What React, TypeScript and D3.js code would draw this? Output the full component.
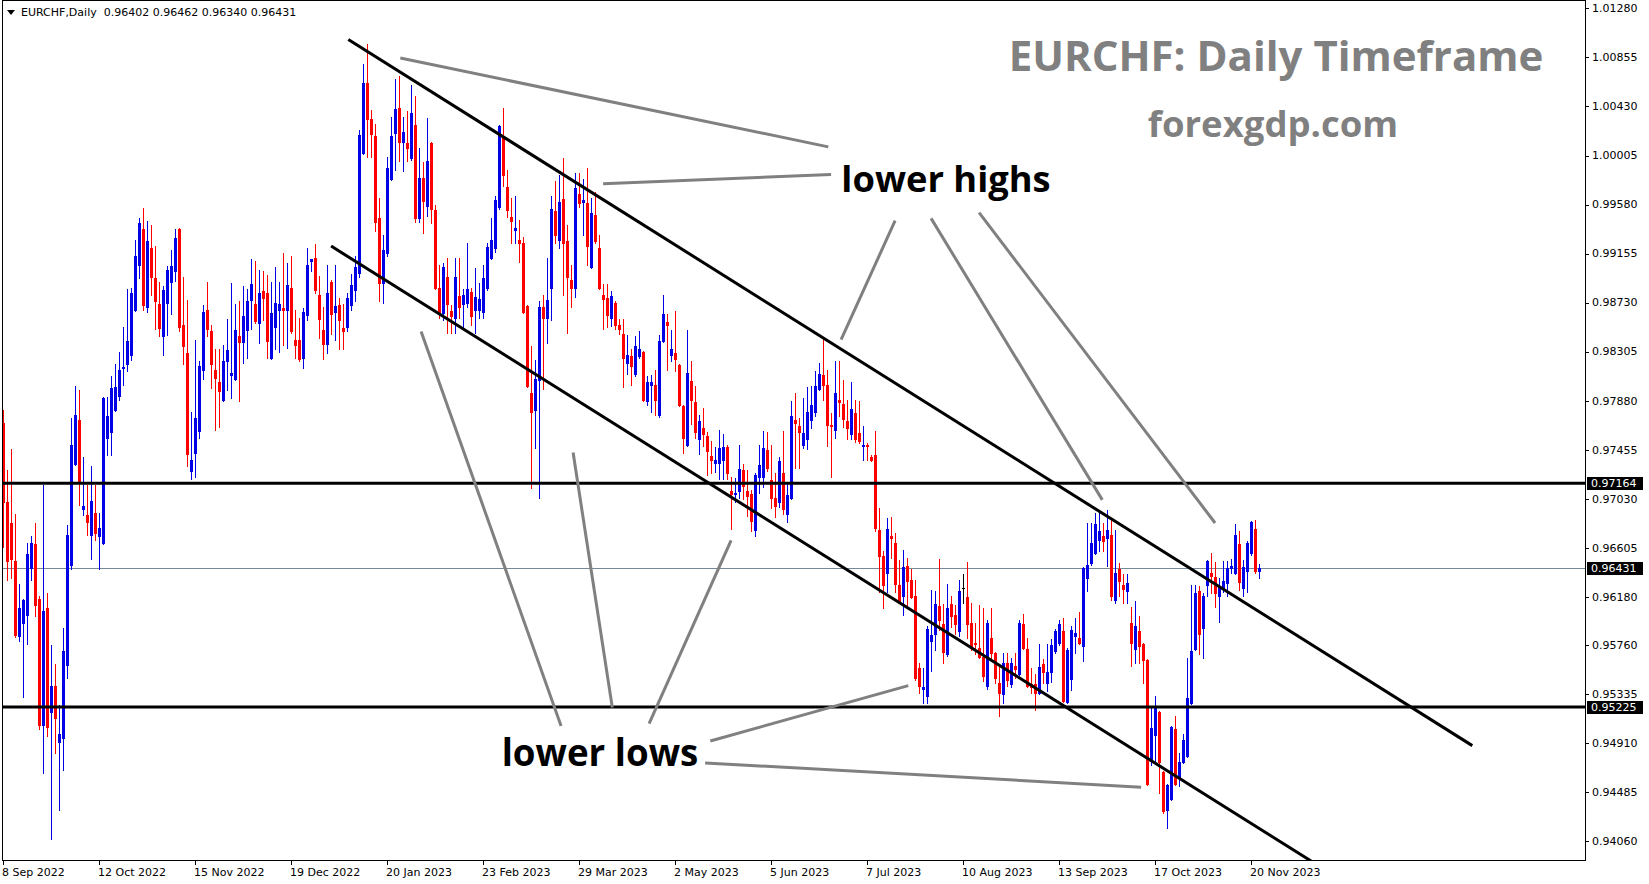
import React from "react";
import * as d3 from "d3";

// EURCHF daily candles, 8 Sep 2022 .. 22 Nov 2023
const opens = [
  0.9769, 0.97, 0.9682, 0.9649, 0.9584, 0.9595, 0.9602, 0.9643, 0.9664, 0.9616,
  0.9507, 0.9608, 0.9518, 0.9541, 0.9492, 0.9496, 0.9559, 0.9646, 0.9733, 0.9771,
  0.9694, 0.9689, 0.9672, 0.9691, 0.9671, 0.9665, 0.9756, 0.9761, 0.978, 0.9792,
  0.9816, 0.982, 0.9828, 0.9867, 0.9906, 0.9937, 0.9869, 0.992, 0.9894, 0.9872,
  0.9844, 0.9873, 0.9891, 0.99, 0.9937, 0.9854, 0.9829, 0.9727, 0.9743, 0.9762,
  0.9815, 0.9867, 0.9848, 0.9815, 0.9804, 0.9789, 0.9822, 0.981, 0.9807, 0.9844,
  0.9839, 0.9849, 0.9875, 0.9872, 0.9855, 0.9883, 0.9881, 0.9825, 0.9852, 0.9867,
  0.9868, 0.9867, 0.9886, 0.9841, 0.9841, 0.9825, 0.9862, 0.9909, 0.9912, 0.988,
  0.9849, 0.9837, 0.9891, 0.9865, 0.9871, 0.9851, 0.9852, 0.9871, 0.9884, 0.9899,
  1.0003, 1.0063, 1.0032, 1.0017, 0.9946, 0.989, 0.9916, 0.998, 1.002, 1.0042,
  1.0012, 1.0011, 0.9998, 1.0027, 0.9946, 0.9981, 0.9957, 1.0011, 0.9953, 0.9886,
  0.9864, 0.9895, 0.9866, 0.986, 0.9879, 0.9872, 0.9873, 0.9882, 0.9867, 0.9867,
  0.9865, 0.9886, 0.9912, 0.992, 0.9956, 1.0016, 0.9973, 0.9947, 0.9936, 0.9927,
  0.9925, 0.987, 0.9795, 0.978, 0.9806, 0.9869, 0.986, 0.9886, 0.9952, 0.9927,
  0.9963, 0.9926, 0.9893, 0.9886, 0.9967, 0.996, 0.9959, 0.9904, 0.9949, 0.992,
  0.988, 0.9877, 0.986, 0.9873, 0.9854, 0.9846, 0.9821, 0.9827, 0.9811, 0.9827,
  0.983, 0.9788, 0.9802, 0.9802, 0.9776, 0.984, 0.9856, 0.9828, 0.9829, 0.9819,
  0.9783, 0.975, 0.9805, 0.9787, 0.9755, 0.9764, 0.9757, 0.974, 0.9734, 0.9734,
  0.9737, 0.9748, 0.971, 0.9707, 0.971, 0.9728, 0.971, 0.9707, 0.9676, 0.9722,
  0.9722, 0.9745, 0.9719, 0.9704, 0.97, 0.9725, 0.969, 0.9704, 0.9771, 0.9766,
  0.975, 0.9755, 0.9771, 0.9778, 0.9798, 0.981, 0.9802, 0.9767, 0.9763, 0.9789,
  0.9785, 0.977, 0.9759, 0.9777, 0.976, 0.9749, 0.975, 0.9739, 0.9741, 0.9676,
  0.9653, 0.9639, 0.9671, 0.9665, 0.9628, 0.9619, 0.9645, 0.9633, 0.9619, 0.9556,
  0.9538, 0.9532, 0.958, 0.9586, 0.961, 0.9594, 0.9568, 0.9612, 0.9602, 0.9588,
  0.9626, 0.9618, 0.9595, 0.9578, 0.9574, 0.9566, 0.9541, 0.9582, 0.9569, 0.9543,
  0.9534, 0.9561, 0.9542, 0.9558, 0.9551, 0.9594, 0.9573, 0.9542, 0.9542, 0.9535,
  0.956, 0.9543, 0.9553, 0.9571, 0.9578, 0.9588, 0.9527, 0.9547, 0.9584, 0.9582,
  0.9575, 0.9634, 0.9647, 0.9656, 0.9667, 0.9671, 0.9669, 0.9672, 0.9615, 0.9642,
  0.9628, 0.9623, 0.9595, 0.9573, 0.9588, 0.9577, 0.9563, 0.9476, 0.9498, 0.9518,
  0.9466, 0.9433, 0.9443, 0.9503, 0.9462, 0.9475, 0.948, 0.9526, 0.9573, 0.9623,
  0.9591, 0.9628, 0.9639, 0.9635, 0.9619, 0.9626, 0.963, 0.9643, 0.9639, 0.9664,
  0.9626, 0.964, 0.9656, 0.9677, 0.96402,
];
const highs = [
  0.978, 0.9728, 0.9746, 0.969, 0.9629, 0.9616, 0.9665, 0.9671, 0.9682, 0.9619,
  0.9715, 0.9621, 0.9576, 0.956, 0.9524, 0.9591, 0.968, 0.9773, 0.9801, 0.9797,
  0.9739, 0.9715, 0.9731, 0.9715, 0.9691, 0.9791, 0.9791, 0.9809, 0.982, 0.983,
  0.9852, 0.9885, 0.9886, 0.9927, 0.9946, 0.9955, 0.9944, 0.994, 0.9922, 0.9891,
  0.9887, 0.9905, 0.9919, 0.9937, 0.9938, 0.9895, 0.9875, 0.9778, 0.9841, 0.9822,
  0.9871, 0.9891, 0.9854, 0.9833, 0.9833, 0.9836, 0.9859, 0.989, 0.9872, 0.9874,
  0.9887, 0.9885, 0.9911, 0.9909, 0.9901, 0.99, 0.9897, 0.9891, 0.9904, 0.9891,
  0.9916, 0.9907, 0.9913, 0.9867, 0.986, 0.9868, 0.992, 0.9911, 0.9924, 0.9896,
  0.9869, 0.9906, 0.9893, 0.9906, 0.9877, 0.9872, 0.9881, 0.9898, 0.9913, 1.0023,
  1.008, 1.0097, 1.004, 1.0028, 0.9964, 0.9932, 0.9999, 1.0034, 1.0067, 1.0069,
  1.0034, 1.0039, 1.0062, 1.0052, 1.0007, 0.9995, 1.0033, 1.0012, 0.9958, 0.9906,
  0.9907, 0.9912, 0.9871, 0.9912, 0.9912, 0.9885, 0.9925, 0.9886, 0.9903, 0.989,
  0.9906, 0.9925, 0.9946, 0.9965, 1.0027, 1.0042, 0.9988, 0.9964, 0.9965, 0.9945,
  0.993, 0.9871, 0.9835, 0.9823, 0.9874, 0.988, 0.9912, 0.9965, 0.9978, 0.9984,
  0.9998, 0.994, 0.9906, 0.9985, 0.9985, 0.998, 0.999, 0.9964, 0.9969, 0.9932,
  0.9889, 0.9889, 0.9883, 0.9874, 0.9859, 0.9859, 0.9845, 0.9833, 0.9844, 0.9848,
  0.9831, 0.9809, 0.981, 0.9815, 0.9845, 0.988, 0.9863, 0.9849, 0.9866, 0.982,
  0.9784, 0.9849, 0.9822, 0.9801, 0.9776, 0.9782, 0.9761, 0.9753, 0.9748, 0.9763,
  0.9759, 0.975, 0.9722, 0.9721, 0.975, 0.9733, 0.9728, 0.9711, 0.9725, 0.975,
  0.9762, 0.9761, 0.975, 0.9725, 0.9739, 0.9762, 0.9717, 0.9788, 0.9795, 0.9773,
  0.979, 0.98, 0.9801, 0.9814, 0.9821, 0.9842, 0.9815, 0.9777, 0.9822, 0.9822,
  0.9806, 0.9789, 0.9804, 0.9789, 0.9788, 0.9766, 0.9751, 0.9741, 0.9762, 0.9695,
  0.9658, 0.9686, 0.9687, 0.9673, 0.965, 0.9659, 0.9652, 0.9642, 0.9633, 0.9561,
  0.9556, 0.9593, 0.9624, 0.9623, 0.9651, 0.9612, 0.9629, 0.9619, 0.9611, 0.9633,
  0.9638, 0.9648, 0.9613, 0.9595, 0.9611, 0.9608, 0.9598, 0.9608, 0.957, 0.9559,
  0.9569, 0.9569, 0.9565, 0.9569, 0.9598, 0.9603, 0.9582, 0.9556, 0.9551, 0.9577,
  0.9564, 0.9577, 0.9581, 0.959, 0.9598, 0.96, 0.9574, 0.9593, 0.96, 0.9605,
  0.9644, 0.9682, 0.9682, 0.9691, 0.9691, 0.9682, 0.9693, 0.9686, 0.9676, 0.9647,
  0.9638, 0.9638, 0.9609, 0.9614, 0.9601, 0.9578, 0.9564, 0.9523, 0.9532, 0.9519,
  0.9467, 0.9456, 0.9506, 0.9515, 0.9483, 0.9499, 0.9565, 0.9628, 0.9628, 0.9627,
  0.9621, 0.965, 0.9656, 0.9648, 0.9634, 0.9649, 0.9649, 0.9651, 0.9681, 0.9675,
  0.965, 0.9666, 0.9684, 0.9685, 0.96462,
];
const lows = [
  0.9661, 0.9633, 0.9634, 0.9583, 0.958, 0.9531, 0.9577, 0.9633, 0.9601, 0.9503,
  0.9465, 0.9497, 0.9408, 0.9483, 0.9433, 0.9468, 0.9548, 0.9642, 0.9732, 0.9698,
  0.9689, 0.9672, 0.9651, 0.9667, 0.9642, 0.9664, 0.9741, 0.9741, 0.9779, 0.9789,
  0.9802, 0.9814, 0.9823, 0.9866, 0.9894, 0.9867, 0.9865, 0.988, 0.985, 0.9844,
  0.9828, 0.9845, 0.9863, 0.9892, 0.9848, 0.982, 0.9731, 0.972, 0.9722, 0.9756,
  0.9807, 0.9844, 0.9799, 0.9763, 0.9765, 0.9788, 0.9797, 0.979, 0.9806, 0.9788,
  0.9821, 0.9825, 0.985, 0.9855, 0.9838, 0.9858, 0.9825, 0.9824, 0.9833, 0.983,
  0.9836, 0.9834, 0.9847, 0.9825, 0.9822, 0.9816, 0.9858, 0.99, 0.9881, 0.9842,
  0.9824, 0.9829, 0.9846, 0.9841, 0.9833, 0.9833, 0.9848, 0.9867, 0.9874, 0.9895,
  1.0002, 0.9999, 0.9999, 0.9935, 0.9874, 0.9873, 0.9913, 0.9979, 0.9988, 0.9996,
  0.9987, 0.9996, 0.9997, 0.9943, 0.9943, 0.9933, 0.9948, 0.9942, 0.9885, 0.986,
  0.9858, 0.9847, 0.9847, 0.9847, 0.986, 0.9852, 0.9869, 0.9854, 0.9847, 0.986,
  0.986, 0.9884, 0.9911, 0.9917, 0.9954, 0.9974, 0.9947, 0.9925, 0.9925, 0.9908,
  0.9864, 0.98, 0.9712, 0.9747, 0.9704, 0.9798, 0.9838, 0.9858, 0.9925, 0.992,
  0.988, 0.9847, 0.9869, 0.9878, 0.9956, 0.9932, 0.9906, 0.9903, 0.9925, 0.9885,
  0.985, 0.9852, 0.9853, 0.985, 0.9846, 0.98, 0.9811, 0.9802, 0.9809, 0.9825,
  0.9788, 0.9784, 0.9778, 0.9776, 0.9774, 0.9839, 0.9815, 0.9822, 0.9814, 0.9783,
  0.9743, 0.9749, 0.9768, 0.9756, 0.9742, 0.9749, 0.9724, 0.9725, 0.9726, 0.972,
  0.972, 0.972, 0.9677, 0.97, 0.9704, 0.9703, 0.9688, 0.9675, 0.9671, 0.9708,
  0.9713, 0.9727, 0.9695, 0.9687, 0.9696, 0.969, 0.9683, 0.9703, 0.973, 0.973,
  0.9747, 0.9746, 0.9764, 0.9775, 0.9797, 0.9789, 0.9749, 0.9722, 0.9756, 0.9775,
  0.9765, 0.9755, 0.9755, 0.9752, 0.9751, 0.9737, 0.9737, 0.9736, 0.9675, 0.9622,
  0.9608, 0.9622, 0.9652, 0.9622, 0.9613, 0.9602, 0.9611, 0.9617, 0.9546, 0.9535,
  0.9526, 0.9526, 0.9554, 0.9572, 0.9589, 0.9561, 0.9567, 0.9592, 0.9586, 0.9584,
  0.9613, 0.9582, 0.9572, 0.9568, 0.9565, 0.9545, 0.9538, 0.9563, 0.9543, 0.9515,
  0.9526, 0.9541, 0.954, 0.9548, 0.955, 0.9573, 0.954, 0.9535, 0.952, 0.9534,
  0.9543, 0.9536, 0.9544, 0.9569, 0.9576, 0.9527, 0.9526, 0.9537, 0.9569, 0.9577,
  0.9562, 0.9623, 0.9646, 0.9655, 0.9658, 0.9658, 0.9645, 0.9615, 0.9613, 0.9619,
  0.9613, 0.9613, 0.9558, 0.9561, 0.9561, 0.9543, 0.9455, 0.9472, 0.9474, 0.9448,
  0.9431, 0.9418, 0.9442, 0.9455, 0.9454, 0.9474, 0.9479, 0.9525, 0.9572, 0.9568,
  0.9565, 0.9619, 0.9621, 0.9609, 0.9596, 0.9622, 0.9619, 0.9639, 0.9638, 0.9624,
  0.9619, 0.9622, 0.9654, 0.9639, 0.9634,
];
const closes = [
  0.97, 0.9649, 0.9651, 0.9585, 0.9608, 0.9615, 0.9655, 0.9665, 0.9611, 0.9507,
  0.9606, 0.9505, 0.9541, 0.9513, 0.9499, 0.9571, 0.9672, 0.975, 0.9776, 0.9718,
  0.9697, 0.9683, 0.9701, 0.9673, 0.9678, 0.979, 0.9775, 0.9799, 0.98, 0.9815,
  0.9817, 0.984, 0.9881, 0.9913, 0.9942, 0.9871, 0.9926, 0.9895, 0.9874, 0.9851,
  0.9884, 0.9901, 0.9905, 0.9929, 0.9852, 0.9835, 0.9742, 0.9737, 0.9773, 0.9818,
  0.9865, 0.985, 0.982, 0.9808, 0.9796, 0.9822, 0.9832, 0.9812, 0.9849, 0.9839,
  0.9861, 0.9874, 0.9889, 0.9857, 0.9881, 0.9877, 0.984, 0.9864, 0.9873, 0.9872,
  0.9867, 0.9888, 0.9848, 0.9836, 0.9824, 0.9865, 0.9906, 0.9911, 0.9884, 0.9859,
  0.9837, 0.9881, 0.9863, 0.987, 0.9858, 0.9848, 0.9877, 0.9888, 0.9904, 1.0018,
  1.0063, 1.0032, 1.0019, 0.9943, 0.989, 0.9919, 0.999, 1.0017, 1.0041, 1.0012,
  1.0021, 1.0007, 1.0037, 0.9946, 0.9981, 0.9961, 0.9996, 0.9954, 0.9886, 0.9864,
  0.9904, 0.9872, 0.9861, 0.9895, 0.9869, 0.988, 0.9885, 0.9861, 0.9878, 0.9876,
  0.9894, 0.9921, 0.9927, 0.9962, 1.0026, 0.9984, 0.9953, 0.9944, 0.9938, 0.9925,
  0.9865, 0.9801, 0.9778, 0.9807, 0.9869, 0.986, 0.9875, 0.9954, 0.9932, 0.996,
  0.9925, 0.9895, 0.9886, 0.9972, 0.9959, 0.9962, 0.9922, 0.9951, 0.9926, 0.9886,
  0.9876, 0.9862, 0.9879, 0.9854, 0.985, 0.9825, 0.9828, 0.9818, 0.9835, 0.9833,
  0.9789, 0.9804, 0.9804, 0.9789, 0.984, 0.9863, 0.9854, 0.9833, 0.9824, 0.9784,
  0.9756, 0.9812, 0.9789, 0.9761, 0.977, 0.9759, 0.9744, 0.9737, 0.9737, 0.9747,
  0.9748, 0.9725, 0.9707, 0.9708, 0.9729, 0.9714, 0.9705, 0.9684, 0.9724, 0.9732,
  0.9747, 0.973, 0.9704, 0.9697, 0.9736, 0.9694, 0.9706, 0.9775, 0.9769, 0.9761,
  0.976, 0.9778, 0.9784, 0.9801, 0.9811, 0.9802, 0.9767, 0.9766, 0.9795, 0.9787,
  0.9772, 0.9764, 0.9781, 0.9755, 0.9753, 0.975, 0.9749, 0.9737, 0.9678, 0.9653,
  0.9628, 0.9677, 0.9669, 0.9629, 0.9614, 0.9644, 0.9632, 0.9618, 0.9548, 0.9541,
  0.954, 0.959, 0.9585, 0.9612, 0.9598, 0.957, 0.9608, 0.9601, 0.9594, 0.9623,
  0.9626, 0.9594, 0.9574, 0.9577, 0.9566, 0.9549, 0.9595, 0.9569, 0.9548, 0.9535,
  0.9561, 0.9546, 0.9561, 0.9555, 0.9595, 0.9574, 0.9541, 0.954, 0.9535, 0.9557,
  0.9553, 0.9553, 0.9576, 0.9588, 0.9594, 0.9528, 0.9572, 0.9589, 0.9587, 0.9578,
  0.9643, 0.9646, 0.9665, 0.9681, 0.9675, 0.9666, 0.9676, 0.9619, 0.9639, 0.9632,
  0.9625, 0.963, 0.9578, 0.9593, 0.9575, 0.9563, 0.9456, 0.9504, 0.9523, 0.9475,
  0.9432, 0.9455, 0.9505, 0.9456, 0.9475, 0.9494, 0.953, 0.9571, 0.9621, 0.9586,
  0.9619, 0.9649, 0.9636, 0.9621, 0.9626, 0.9632, 0.9643, 0.9645, 0.9672, 0.9631,
  0.9644, 0.9665, 0.9683, 0.964, 0.96431,
];

const priceTicks = [
  1.0128, 1.00855, 1.0043, 1.00005, 0.9958, 0.99155, 0.9873, 0.98305, 0.9788,
  0.97455, 0.9703, 0.96605, 0.9618, 0.9576, 0.95335, 0.9491, 0.94485, 0.9406,
];
const dateTickBars = [0, 24, 48, 72, 96, 120, 144, 168, 192, 216, 240, 264, 288, 312];
const dateTickLabels = [
  "8 Sep 2022", "12 Oct 2022", "15 Nov 2022", "19 Dec 2022", "20 Jan 2023",
  "23 Feb 2023", "29 Mar 2023", "2 May 2023", "5 Jun 2023", "7 Jul 2023",
  "10 Aug 2023", "13 Sep 2023", "17 Oct 2023", "20 Nov 2023",
];

const levels = [0.97164, 0.95225];
const lastPrice = 0.96431;

// channel lines, [bar, price, bar, price]
const channelLines = [
  [86.2, 1.0101, 367.2, 0.9489],
  [81.9, 0.9922, 326.9, 0.9389],
];
// grey pointer lines for the labels
const highPointers = [
  [99.2, 1.0085, 206.2, 1.0008],
  [149.9, 0.9976, 206.9, 0.9984],
  [222.9, 0.9944, 209.4, 0.9841],
  [231.9, 0.9946, 274.7, 0.9702],
  [243.9, 0.9951, 302.9, 0.9682],
];
const lowPointers = [
  [104.4, 0.9848, 139.4, 0.9506],
  [142.4, 0.9743, 152.2, 0.9522],
  [181.9, 0.9667, 161.4, 0.9508],
  [226.2, 0.9541, 176.7, 0.9493],
  [175.4, 0.9474, 284.4, 0.9453],
];

const W = 1649;
const H = 884;
const frame = { left: 2, top: 1, right: 1585, bottom: 861 };
const axisFont = "'DejaVu Sans', Verdana, sans-serif";
const bigFont = "'Open Sans', 'Noto Sans', sans-serif";

const App = () => {
  const x = d3.scaleLinear().domain([0, 314]).range([3.5, 1259.5]);
  const y = d3.scaleLinear().domain([0.9406, 1.0128]).range([841.4, 8.4]);
  const fmt = (v) => v.toFixed(5);

  const candles = closes.map((c, i) => {
    const o = opens[i];
    const color = c > o ? "#0000e6" : c < o ? "#ff0000" : "#000000";
    const cx = x(i);
    const yTop = Math.round(y(Math.max(o, c)));
    const yBot = Math.round(y(Math.min(o, c)));
    const yHi = Math.round(y(highs[i]));
    const yLo = Math.round(y(lows[i]));
    return (
      <g key={i} fill={color}>
        <rect x={cx - 0.5} y={yHi} width={1} height={Math.max(1, yLo - yHi + 1)} />
        <rect x={cx - 1.5} y={yTop} width={3} height={Math.max(1, yBot - yTop + 1)} />
      </g>
    );
  });

  const seg = (l, i, stroke, w) => (
    <line
      key={i}
      x1={x(l[0])}
      y1={y(l[1])}
      x2={x(l[2])}
      y2={y(l[3])}
      stroke={stroke}
      strokeWidth={w}
    />
  );

  const priceBox = (p, key) => (
    <g key={key}>
      <rect x={1587} y={Math.round(y(p)) - 6} width={56} height={13} fill="#000" />
      <text x={1591} y={y(p)} dy="0.35em" fill="#fff" fontSize={11} fontFamily={axisFont}>
        {fmt(p)}
      </text>
    </g>
  );

  return (
    <svg
      width={W}
      height={H}
      style={{ position: "absolute", left: 0, top: 0, background: "#fff" }}
    >
      <defs>
        <clipPath id="plotClip">
          <rect
            x={frame.left}
            y={frame.top}
            width={frame.right - frame.left}
            height={frame.bottom - frame.top}
          />
        </clipPath>
      </defs>
      <rect width={W} height={H} fill="#fff" />

      <g clipPath="url(#plotClip)">
        <line
          x1={frame.left}
          x2={frame.right}
          y1={Math.round(y(lastPrice)) + 0.5}
          y2={Math.round(y(lastPrice)) + 0.5}
          stroke="#778899"
          strokeWidth={1}
        />
        {candles}
        {levels.map((p, i) => (
          <line
            key={i}
            x1={frame.left}
            x2={frame.right}
            y1={y(p)}
            y2={y(p)}
            stroke="#000"
            strokeWidth={3}
          />
        ))}
        {channelLines.map((l, i) => seg(l, i, "#000", 3))}
        {highPointers.map((l, i) => seg(l, i, "#808080", 3))}
        {lowPointers.map((l, i) => seg(l, i, "#808080", 3))}
      </g>

      {/* frame */}
      <rect
        x={frame.left + 0.5}
        y={frame.top - 0.5}
        width={frame.right - frame.left}
        height={frame.bottom - frame.top}
        fill="none"
        stroke="#000"
        strokeWidth={1}
      />

      {/* price axis */}
      {priceTicks.map((p) => (
        <g key={p}>
          <line x1={frame.right} x2={frame.right + 4} y1={Math.round(y(p)) + 0.5} y2={Math.round(y(p)) + 0.5} stroke="#000" />
          <text x={1592} y={y(p)} dy="0.35em" fontSize={11} fontFamily={axisFont} fill="#000">
            {fmt(p)}
          </text>
        </g>
      ))}
      {levels.map((p, i) => priceBox(p, "lv" + i))}
      {priceBox(lastPrice, "last")}

      {/* time axis */}
      {dateTickBars.map((b, i) => (
        <g key={b}>
          <line x1={x(b)} x2={x(b)} y1={frame.bottom} y2={frame.bottom + 4} stroke="#000" />
          <text x={x(b) - 1.5} y={876} fontSize={11} fontFamily={axisFont} fill="#000">
            {dateTickLabels[i]}
          </text>
        </g>
      ))}

      {/* header */}
      <path d="M7,10 L15,10 L11,15 Z" fill="#000" />
      <text x={21} y={16} fontSize={11} fontFamily={axisFont} fill="#000" style={{ whiteSpace: "pre" }}>
        {`EURCHF,Daily  ${fmt(opens[314])} ${fmt(highs[314])} ${fmt(lows[314])} ${fmt(closes[314])}`}
      </text>

      {/* annotations */}
      <text x={1276} y={71} textAnchor="middle" fontSize={42} fontWeight="bold" fontFamily={bigFont} fill="#808080">
        EURCHF: Daily Timeframe
      </text>
      <text x={1273} y={137} textAnchor="middle" fontSize={36.5} fontWeight="bold" fontFamily={bigFont} fill="#808080">
        forexgdp.com
      </text>
      <text x={946} y={192} textAnchor="middle" fontSize={36.3} fontWeight="bold" fontFamily={bigFont} fill="#000">
        lower highs
      </text>
      <text x={600} y={766} textAnchor="middle" fontSize={36.7} fontWeight="bold" fontFamily={bigFont} fill="#000">
        lower lows
      </text>
    </svg>
  );
};

export default App;
